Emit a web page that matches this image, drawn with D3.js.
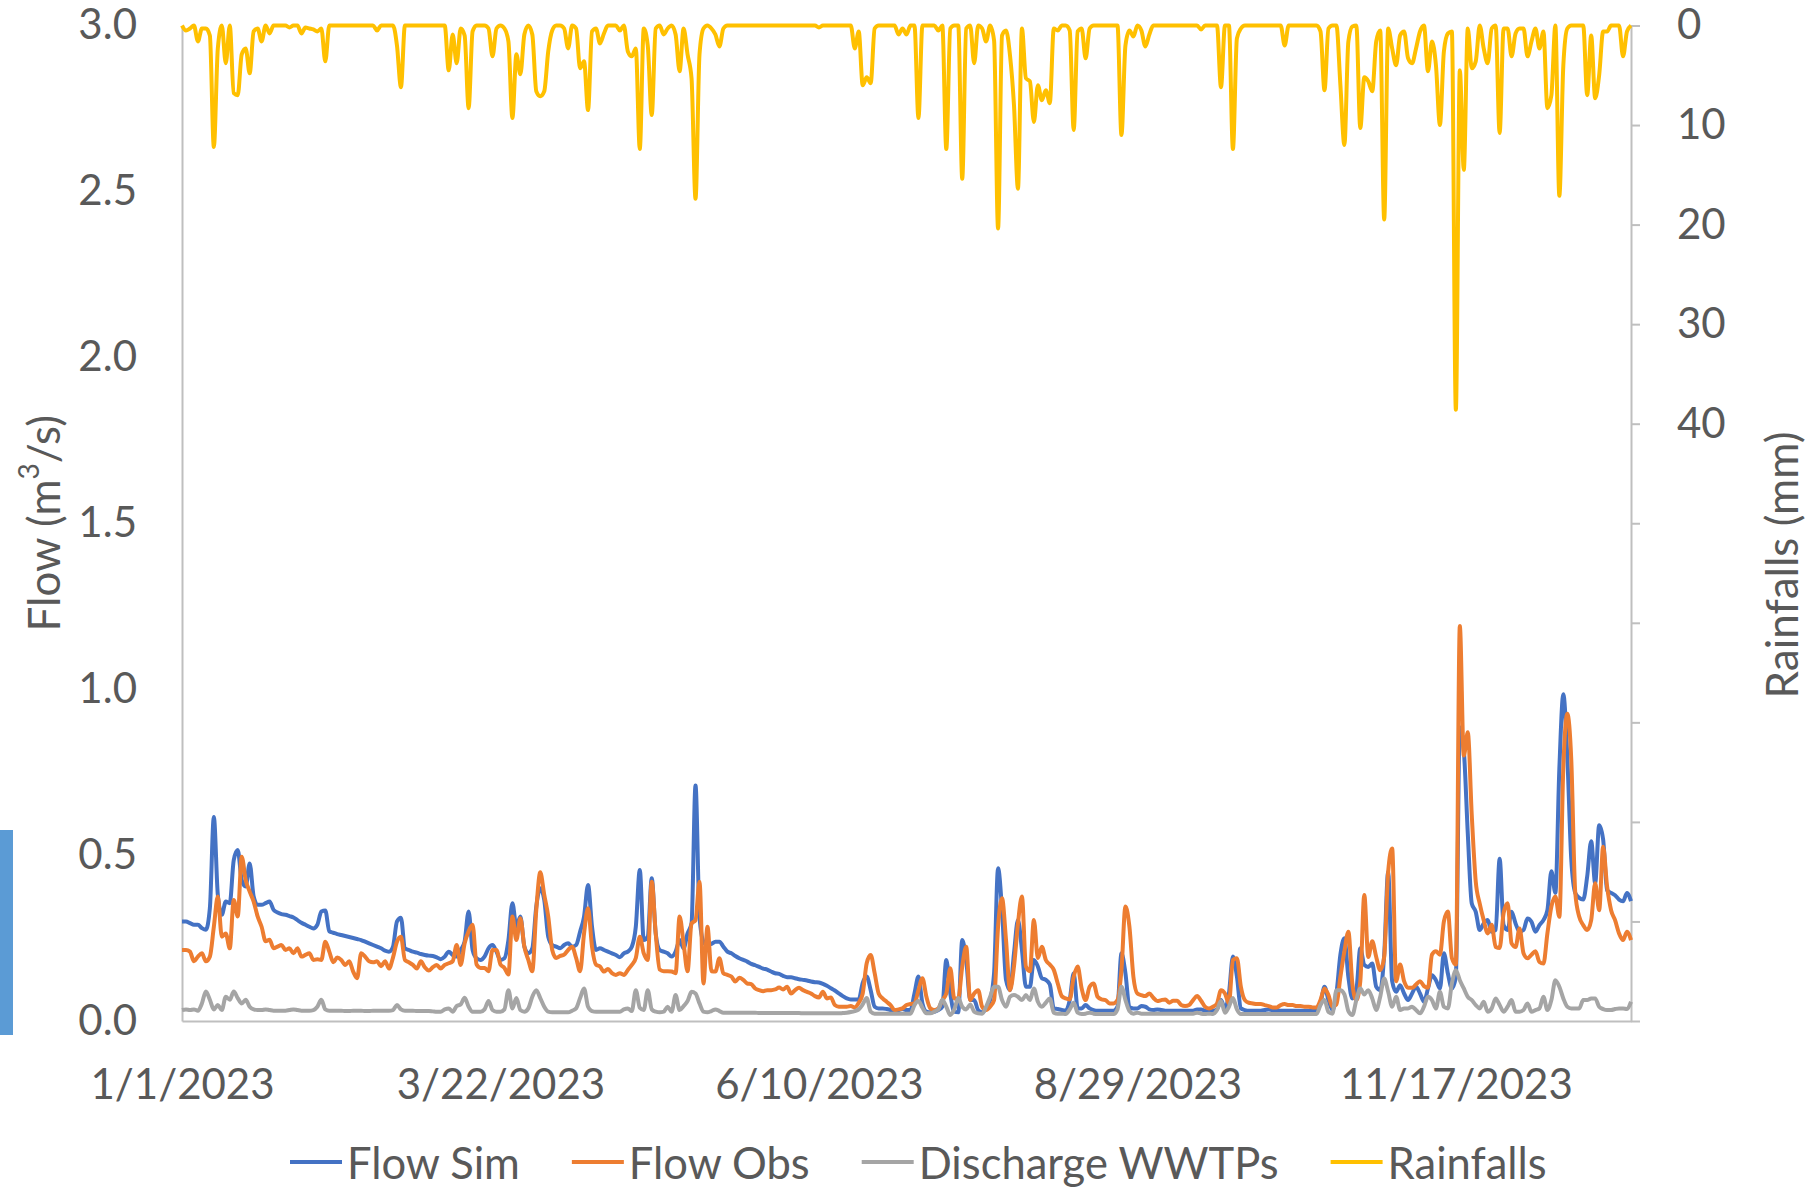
<!DOCTYPE html>
<html>
<head>
<meta charset="utf-8">
<script src="https://cdn.jsdelivr.net/npm/d3@7"></script>
<style>
  body { margin: 0; background: #fff; }
  #chart text { font-family: Lato, "Open Sans", sans-serif; fill: #595959; }
</style>
</head>
<body>
<div id="chart"></div>
<script>
// ---- data (daily, starting 1/1/2023) ----
const startDate = "1/1/2023";
const xTickLabels = ["1/1/2023", "3/22/2023", "6/10/2023", "8/29/2023", "11/17/2023"];
const flowTicks = [0, 0.5, 1, 1.5, 2, 2.5, 3];
const rainTicks = [0, 10, 20, 30, 40, 50, 60, 70, 80, 90, 100];
const rainLabelMax = 40;

const seriesNames = ["Flow Sim", "Flow Obs", "Discharge WWTPs", "Rainfalls"];

const flowSim = [
  0.30, 0.30, 0.295, 0.29, 0.29, 0.28, 0.275, 0.34, 0.615, 0.38,
  0.32, 0.36, 0.355, 0.485, 0.515, 0.425, 0.405, 0.475, 0.375, 0.35,
  0.35, 0.355, 0.36, 0.335, 0.327, 0.322, 0.32, 0.316, 0.312, 0.304,
  0.296, 0.29, 0.284, 0.279, 0.29, 0.33, 0.333, 0.27, 0.266, 0.262,
  0.259, 0.256, 0.253, 0.25, 0.247, 0.244, 0.239, 0.234, 0.229, 0.224,
  0.219, 0.212, 0.209, 0.224, 0.30, 0.311, 0.219, 0.214, 0.209, 0.206,
  0.202, 0.199, 0.197, 0.196, 0.192, 0.186, 0.194, 0.209, 0.199, 0.194,
  0.214, 0.24, 0.33, 0.214, 0.189, 0.184, 0.194, 0.219, 0.229, 0.209,
  0.184, 0.189, 0.244, 0.355, 0.284, 0.315, 0.224, 0.204, 0.219, 0.345,
  0.40, 0.365, 0.254, 0.229, 0.224, 0.219, 0.229, 0.234, 0.224, 0.229,
  0.269, 0.315, 0.41, 0.284, 0.214, 0.219, 0.214, 0.209, 0.204, 0.199,
  0.192, 0.204, 0.209, 0.224, 0.284, 0.455, 0.244, 0.254, 0.43, 0.264,
  0.214, 0.209, 0.204, 0.194, 0.209, 0.244, 0.219, 0.264, 0.294, 0.71,
  0.315, 0.239, 0.229, 0.232, 0.239, 0.239, 0.224, 0.209, 0.204, 0.196,
  0.189, 0.184, 0.179, 0.172, 0.168, 0.163, 0.158, 0.155, 0.149, 0.144,
  0.142, 0.136, 0.132, 0.132, 0.129, 0.126, 0.124, 0.122, 0.119, 0.117,
  0.116, 0.112, 0.106, 0.099, 0.092, 0.083, 0.075, 0.068, 0.065, 0.065,
  0.065, 0.115, 0.134, 0.093, 0.043, 0.038, 0.038, 0.036, 0.033, 0.028,
  0.033, 0.036, 0.033, 0.033, 0.083, 0.134, 0.053, 0.028, 0.026, 0.028,
  0.033, 0.043, 0.184, 0.083, 0.028, 0.026, 0.244, 0.184, 0.063, 0.063,
  0.033, 0.026, 0.038, 0.063, 0.144, 0.46, 0.334, 0.124, 0.093, 0.204,
  0.304, 0.214, 0.103, 0.103, 0.184, 0.164, 0.129, 0.124, 0.11, 0.038,
  0.036, 0.033, 0.031, 0.063, 0.144, 0.038, 0.038, 0.048, 0.038, 0.033,
  0.031, 0.031, 0.031, 0.031, 0.031, 0.043, 0.204, 0.144, 0.041, 0.038,
  0.038, 0.045, 0.043, 0.035, 0.033, 0.035, 0.033, 0.031, 0.031, 0.031,
  0.031, 0.031, 0.031, 0.031, 0.031, 0.035, 0.035, 0.031, 0.033, 0.031,
  0.035, 0.063, 0.038, 0.083, 0.194, 0.134, 0.038, 0.033, 0.031, 0.031,
  0.031, 0.031, 0.033, 0.035, 0.033, 0.033, 0.031, 0.031, 0.031, 0.031,
  0.031, 0.031, 0.031, 0.031, 0.031, 0.031, 0.053, 0.103, 0.063, 0.033,
  0.083, 0.2, 0.249, 0.133, 0.068, 0.093, 0.219, 0.169, 0.163, 0.173,
  0.103, 0.093, 0.2, 0.45, 0.12, 0.088, 0.108, 0.083, 0.063, 0.083,
  0.103, 0.083, 0.058, 0.098, 0.138, 0.123, 0.098, 0.204, 0.143, 0.098,
  0.133, 0.885, 0.816, 0.565, 0.354, 0.329, 0.274, 0.294, 0.304, 0.269,
  0.274, 0.489, 0.289, 0.274, 0.329, 0.294, 0.269, 0.274, 0.309, 0.299,
  0.269, 0.289, 0.304, 0.334, 0.451, 0.386, 0.76, 0.985, 0.795, 0.486,
  0.386, 0.371, 0.366, 0.436, 0.542, 0.415, 0.59, 0.547, 0.394, 0.386,
  0.379, 0.366, 0.361, 0.386, 0.361
];

const flowObs = [
  0.214, 0.214, 0.209, 0.18, 0.194, 0.204, 0.18, 0.194, 0.284, 0.375,
  0.254, 0.264, 0.219, 0.365, 0.315, 0.495, 0.425, 0.39, 0.36, 0.315,
  0.284, 0.24, 0.245, 0.219, 0.224, 0.229, 0.214, 0.219, 0.204, 0.219,
  0.194, 0.199, 0.204, 0.184, 0.186, 0.184, 0.239, 0.209, 0.177, 0.191,
  0.184, 0.169, 0.18, 0.149, 0.129, 0.204, 0.194, 0.18, 0.177, 0.18,
  0.165, 0.18, 0.158, 0.191, 0.239, 0.254, 0.184, 0.177, 0.169, 0.158,
  0.18, 0.162, 0.152, 0.162, 0.169, 0.158, 0.169, 0.174, 0.18, 0.229,
  0.169, 0.234, 0.27, 0.29, 0.17, 0.16, 0.16, 0.15, 0.214, 0.214,
  0.17, 0.16, 0.14, 0.315, 0.244, 0.31, 0.224, 0.184, 0.15, 0.335,
  0.448, 0.38, 0.315, 0.214, 0.19, 0.196, 0.2, 0.214, 0.224, 0.19,
  0.15, 0.264, 0.34, 0.224, 0.17, 0.164, 0.149, 0.157, 0.144, 0.139,
  0.144, 0.139, 0.154, 0.169, 0.19, 0.254, 0.204, 0.184, 0.42, 0.264,
  0.155, 0.15, 0.15, 0.149, 0.144, 0.315, 0.234, 0.15, 0.294, 0.304,
  0.42, 0.113, 0.284, 0.15, 0.149, 0.189, 0.144, 0.139, 0.134, 0.119,
  0.13, 0.124, 0.113, 0.111, 0.098, 0.093, 0.09, 0.093, 0.093, 0.095,
  0.101, 0.095, 0.103, 0.083, 0.093, 0.1, 0.093, 0.088, 0.083, 0.075,
  0.071, 0.088, 0.068, 0.071, 0.048, 0.043, 0.043, 0.043, 0.045, 0.041,
  0.055, 0.083, 0.174, 0.199, 0.144, 0.083, 0.068, 0.058, 0.048, 0.033,
  0.035, 0.038, 0.048, 0.051, 0.053, 0.093, 0.129, 0.073, 0.038, 0.033,
  0.038, 0.063, 0.083, 0.159, 0.068, 0.068, 0.164, 0.224, 0.063, 0.083,
  0.093, 0.043, 0.033, 0.043, 0.063, 0.284, 0.37, 0.244, 0.093, 0.164,
  0.294, 0.375, 0.164, 0.15, 0.304, 0.19, 0.224, 0.184, 0.17, 0.154,
  0.113, 0.075, 0.068, 0.065, 0.133, 0.164, 0.098, 0.063, 0.103, 0.113,
  0.073, 0.065, 0.063, 0.053, 0.053, 0.063, 0.154, 0.345, 0.284, 0.133,
  0.083, 0.078, 0.075, 0.083, 0.07, 0.06, 0.063, 0.065, 0.055, 0.061,
  0.061, 0.048, 0.045, 0.048, 0.063, 0.075, 0.061, 0.043, 0.038, 0.043,
  0.053, 0.093, 0.083, 0.053, 0.184, 0.189, 0.103, 0.063, 0.055, 0.053,
  0.051, 0.051, 0.048, 0.045, 0.041, 0.041, 0.048, 0.051, 0.048, 0.048,
  0.045, 0.045, 0.043, 0.043, 0.041, 0.041, 0.063, 0.098, 0.078, 0.043,
  0.05, 0.133, 0.21, 0.269, 0.113, 0.063, 0.12, 0.38, 0.193, 0.24,
  0.193, 0.153, 0.193, 0.45, 0.52, 0.12, 0.17, 0.12, 0.1, 0.1,
  0.11, 0.12, 0.105, 0.1, 0.2, 0.21, 0.2, 0.30, 0.33, 0.19,
  0.17, 1.19, 0.80, 0.87, 0.62, 0.42, 0.354, 0.304, 0.264, 0.29,
  0.223, 0.22, 0.325, 0.355, 0.234, 0.223, 0.279, 0.204, 0.189, 0.2,
  0.21, 0.178, 0.173, 0.264, 0.345, 0.375, 0.314, 0.765, 0.926, 0.786,
  0.386, 0.314, 0.289, 0.274, 0.304, 0.415, 0.334, 0.525, 0.405, 0.334,
  0.304, 0.264, 0.244, 0.269, 0.244
];

const dischargeWWTPs = [
  0.033, 0.035, 0.033, 0.035, 0.031, 0.053, 0.089, 0.064, 0.035, 0.048,
  0.033, 0.073, 0.064, 0.089, 0.069, 0.053, 0.064, 0.043, 0.035, 0.033,
  0.033, 0.035, 0.033, 0.031, 0.031, 0.031, 0.031, 0.033, 0.035, 0.033,
  0.031, 0.031, 0.031, 0.033, 0.043, 0.064, 0.035, 0.031, 0.031, 0.031,
  0.031, 0.030, 0.030, 0.031, 0.031, 0.031, 0.030, 0.030, 0.031, 0.031,
  0.031, 0.031, 0.031, 0.033, 0.048, 0.035, 0.031, 0.031, 0.031, 0.030,
  0.030, 0.030, 0.030, 0.029, 0.028, 0.028, 0.035, 0.038, 0.028, 0.045,
  0.050, 0.070, 0.043, 0.028, 0.028, 0.028, 0.035, 0.060, 0.033, 0.028,
  0.028, 0.035, 0.093, 0.038, 0.069, 0.033, 0.028, 0.038, 0.073, 0.093,
  0.069, 0.043, 0.028, 0.026, 0.026, 0.026, 0.026, 0.026, 0.031, 0.038,
  0.069, 0.098, 0.043, 0.030, 0.028, 0.028, 0.028, 0.028, 0.028, 0.028,
  0.028, 0.035, 0.038, 0.030, 0.093, 0.040, 0.033, 0.093, 0.035, 0.028,
  0.026, 0.028, 0.043, 0.028, 0.078, 0.033, 0.045, 0.060, 0.088, 0.083,
  0.053, 0.028, 0.026, 0.030, 0.035, 0.030, 0.025, 0.025, 0.025, 0.025,
  0.025, 0.025, 0.025, 0.025, 0.025, 0.024, 0.024, 0.024, 0.024, 0.024,
  0.024, 0.024, 0.024, 0.024, 0.024, 0.024, 0.023, 0.023, 0.023, 0.023,
  0.023, 0.023, 0.023, 0.023, 0.023, 0.023, 0.024, 0.025, 0.027, 0.030,
  0.035, 0.050, 0.069, 0.028, 0.022, 0.022, 0.022, 0.022, 0.022, 0.022,
  0.022, 0.022, 0.022, 0.022, 0.048, 0.060, 0.040, 0.023, 0.023, 0.028,
  0.035, 0.064, 0.043, 0.018, 0.035, 0.069, 0.043, 0.035, 0.050, 0.028,
  0.023, 0.022, 0.043, 0.073, 0.103, 0.103, 0.063, 0.043, 0.073, 0.078,
  0.073, 0.063, 0.078, 0.063, 0.098, 0.058, 0.043, 0.055, 0.068, 0.025,
  0.022, 0.022, 0.021, 0.035, 0.055, 0.025, 0.021, 0.022, 0.025, 0.022,
  0.021, 0.021, 0.021, 0.021, 0.021, 0.035, 0.103, 0.063, 0.030, 0.022,
  0.025, 0.022, 0.022, 0.022, 0.022, 0.022, 0.022, 0.022, 0.022, 0.022,
  0.022, 0.022, 0.022, 0.022, 0.022, 0.025, 0.022, 0.021, 0.022, 0.021,
  0.033, 0.060, 0.025, 0.043, 0.069, 0.035, 0.021, 0.021, 0.021, 0.021,
  0.021, 0.021, 0.021, 0.021, 0.021, 0.021, 0.021, 0.021, 0.021, 0.021,
  0.021, 0.021, 0.021, 0.021, 0.021, 0.021, 0.048, 0.063, 0.027, 0.022,
  0.093, 0.093, 0.080, 0.030, 0.018, 0.063, 0.098, 0.080, 0.093, 0.068,
  0.033, 0.073, 0.128, 0.088, 0.043, 0.073, 0.033, 0.038, 0.038, 0.043,
  0.033, 0.023, 0.043, 0.073, 0.063, 0.038, 0.088, 0.043, 0.038, 0.113,
  0.153, 0.123, 0.098, 0.073, 0.063, 0.048, 0.038, 0.058, 0.028, 0.038,
  0.068, 0.048, 0.028, 0.043, 0.063, 0.028, 0.028, 0.033, 0.053, 0.028,
  0.033, 0.038, 0.073, 0.033, 0.063, 0.123, 0.103, 0.068, 0.043, 0.038,
  0.038, 0.038, 0.063, 0.063, 0.068, 0.068, 0.043, 0.036, 0.033, 0.033,
  0.036, 0.038, 0.038, 0.036, 0.058
];

const rainfalls = [
  0, 0.5, 0.3, 0, 1.6, 0.3, 0.3, 1, 12.2, 2.3,
  0, 3.8, 0, 6.8, 7, 2.9, 2.3, 4.8, 0.6, 0.3,
  1.6, 0, 0.8, 0, 0, 0, 0, 0.2, 0, 0,
  0.8, 0.2, 0.3, 0.4, 0.6, 0.3, 3.6, 0, 0, 0,
  0, 0, 0, 0, 0, 0, 0, 0, 0, 0.5,
  0, 0, 0, 0, 2, 6.2, 0, 0, 0, 0,
  0, 0, 0, 0, 0, 0, 0, 4.5, 0.9, 3.8,
  0.3, 1, 8.3, 0.6, 0, 0, 0, 0.3, 3.1, 0.3,
  0, 0.3, 1.6, 9.3, 2.9, 4.9, 0.9, 0, 0.9, 6.6,
  7.1, 6.6, 2.6, 0.5, 0, 0, 0.3, 2.3, 0, 0.3,
  4.3, 3.6, 8.5, 0.6, 0.3, 1.8, 0.8, 0, 0, 0,
  0.5, 0, 2.6, 3.1, 2.3, 12.4, 0.3, 2, 9, 0.3,
  0, 0.9, 0.3, 0, 0.9, 4.6, 0.3, 2.9, 5.3, 17.4,
  2.9, 0.3, 0, 0.3, 0.9, 2.1, 0.3, 0, 0, 0,
  0, 0, 0, 0, 0, 0, 0, 0, 0, 0,
  0, 0, 0, 0, 0, 0, 0, 0, 0, 0,
  0.2, 0, 0, 0, 0, 0, 0, 0, 0, 2.3,
  0.6, 6, 5.2, 5.8, 0.3, 0, 0, 0, 0, 0,
  0.9, 0.3, 0.9, 0, 0, 9.3, 0, 0, 0, 0,
  0.5, 0, 12.4, 0.3, 0, 0, 15.4, 0.3, 0, 3.8,
  0, 0.3, 1.6, 0, 1.5, 20.4, 1, 0.5, 3, 8,
  16.4, 0.3, 5.3, 5.6, 9.7, 6, 7.5, 6.5, 7.8, 0.3,
  0.5, 0, 0, 0.5, 10.5, 0.6, 0.3, 3.3, 0.3, 0,
  0, 0, 0, 0, 0, 0, 11, 2, 0.5, 1.1,
  0, 0.5, 2.1, 0.9, 0, 0, 0, 0, 0, 0,
  0, 0, 0, 0, 0, 0, 0.4, 0, 0, 0,
  0, 6.2, 0, 0, 12.4, 1.3, 0.3, 0, 0, 0,
  0, 0, 0, 0, 0, 0, 0, 2, 0, 0,
  0, 0, 0, 0, 0, 0, 0.6, 6.5, 0.3, 0,
  0, 6, 12, 1.6, 0.1, 0, 10.3, 5.2, 5.6, 6.6,
  1.6, 0.5, 19.5, 0.3, 2.3, 4, 1, 0.6, 3.3, 3.8,
  2.3, 0.6, 0, 4.6, 1.6, 4, 10, 2.6, 0.8, 0.6,
  38.6, 4.5, 14.5, 0.3, 4.3, 3.6, 0, 2.3, 3.8, 0.3,
  0, 10.8, 0.3, 0.3, 3.1, 0.8, 0.3, 0.3, 3.1, 1.6,
  0.3, 2.3, 0.6, 8.3, 7, 0, 17.1, 4, 0.3, 0,
  0, 0, 0, 7, 1, 7.3, 5, 0.6, 0.6, 0,
  0, 0, 3.1, 0.6, 0
];

// ---- chart ----
function drawChart() {
  const container = d3.select("#chart");
  container.selectAll("*").remove();

  const width = 1818;
  const height = 1187;
  const margin = { top: 25.5, right: 187, bottom: 166, left: 182 };
  const axisColor = "#BFBFBF";
  const colors = ["#4472C4", "#ED7D31", "#A5A5A5", "#FFC000"];

  const svg = container.append("svg")
    .attr("width", width)
    .attr("height", height);

  // stray selection marker at the left edge of the reference
  svg.append("rect")
    .attr("x", 0).attr("y", 830)
    .attr("width", 13).attr("height", 205)
    .attr("fill", "#5B9BD5");

  const parseDate = d3.utcParse("%m/%d/%Y");
  const start = parseDate(startDate);
  const dateAt = i => d3.utcDay.offset(start, i);

  const x = d3.scaleUtc()
    .domain([start, dateAt(flowSim.length - 1)])
    .range([margin.left, width - margin.right]);

  const yFlow = d3.scaleLinear()
    .domain([0, 3])
    .range([height - margin.bottom, margin.top]);

  const yRain = d3.scaleLinear()
    .domain([0, 100])
    .range([margin.top, height - margin.bottom]);

  const series = [
    { name: seriesNames[0], values: flowSim, y: yFlow, color: colors[0] },
    { name: seriesNames[1], values: flowObs, y: yFlow, color: colors[1] },
    { name: seriesNames[2], values: dischargeWWTPs, y: yFlow, color: colors[2] },
    { name: seriesNames[3], values: rainfalls, y: yRain, color: colors[3] }
  ];

  // axes
  const xAxis = svg.append("g")
    .attr("transform", `translate(0,${height - margin.bottom})`)
    .call(d3.axisBottom(x)
      .tickValues(xTickLabels.map(parseDate))
      .tickFormat(d3.utcFormat("%-m/%-d/%Y"))
      .tickSize(0)
      .tickPadding(48));

  const yAxisLeft = svg.append("g")
    .attr("transform", `translate(${margin.left},0)`)
    .call(d3.axisLeft(yFlow)
      .tickValues(flowTicks)
      .tickFormat(d3.format(".1f"))
      .tickSize(0)
      .tickPadding(45));

  const yAxisRight = svg.append("g")
    .attr("transform", `translate(${width - margin.right},0)`)
    .call(d3.axisRight(yRain)
      .tickValues(rainTicks)
      .tickFormat(d => d <= rainLabelMax ? d : "")
      .tickSize(9)
      .tickSizeOuter(0)
      .tickPadding(37));

  [xAxis, yAxisLeft, yAxisRight].forEach(g => {
    g.attr("font-family", null).attr("font-size", null);
    g.select(".domain").attr("stroke", axisColor).attr("stroke-width", 2);
    g.selectAll(".tick line").attr("stroke", axisColor).attr("stroke-width", 2);
    g.selectAll(".tick text").attr("font-size", 42);
  });

  // lines
  series.forEach(s => {
    const line = d3.line()
      .x((d, i) => x(dateAt(i)))
      .y(d => s.y(d))
      .curve(d3.curveMonotoneX);

    svg.append("path")
      .datum(s.values)
      .attr("fill", "none")
      .attr("stroke", s.color)
      .attr("stroke-width", 4)
      .attr("stroke-linejoin", "round")
      .attr("d", line);
  });

  // axis titles
  const leftTitle = svg.append("text")
    .attr("transform", `translate(43,${(margin.top + height - margin.bottom) / 2}) rotate(-90)`)
    .attr("text-anchor", "middle")
    .attr("dominant-baseline", "central")
    .attr("font-size", 44);
  leftTitle.append("tspan").text("Flow (m");
  leftTitle.append("tspan").attr("font-size", 28).attr("dy", -15).text("3");
  leftTitle.append("tspan").attr("dy", 15).text("/s)");

  svg.append("text")
    .attr("transform", `translate(1781,565) rotate(-90)`)
    .attr("text-anchor", "middle")
    .attr("dominant-baseline", "central")
    .attr("font-size", 44)
    .text("Rainfalls (mm)");

  // legend
  const legend = svg.append("g").attr("transform", `translate(290,1162)`);
  let cursor = 0;
  series.forEach(s => {
    const item = legend.append("g").attr("transform", `translate(${cursor},0)`);
    item.append("line")
      .attr("x1", 0).attr("x2", 52)
      .attr("stroke", s.color)
      .attr("stroke-width", 4);
    const label = item.append("text")
      .attr("x", 57)
      .attr("dominant-baseline", "central")
      .attr("font-size", 43.5)
      .text(s.name);
    cursor += 57 + label.node().getComputedTextLength() + 52;
  });
}

drawChart();
</script>
</body>
</html>
